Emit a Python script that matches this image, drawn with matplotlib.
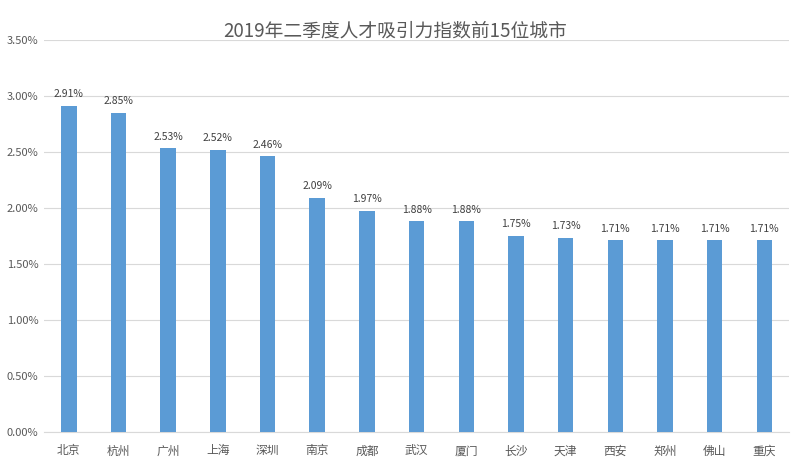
import matplotlib
matplotlib.use('Agg')
import matplotlib.pyplot as plt
from matplotlib.ticker import FuncFormatter, MultipleLocator

plt.rcParams['font.family'] = ['Noto Sans CJK SC', 'DejaVu Sans']

# 城市与人才吸引力指数(%)
cities = ['北京', '杭州', '广州', '上海', '深圳', '南京', '成都', '武汉',
          '厦门', '长沙', '天津', '西安', '郑州', '佛山', '重庆']
values = [2.91, 2.85, 2.53, 2.52, 2.46, 2.09, 1.97, 1.88,
          1.88, 1.75, 1.73, 1.71, 1.71, 1.71, 1.71]

fig = plt.figure(figsize=(7.91, 4.62), dpi=100)
ax = fig.add_axes([0.0556, 0.065, 0.942, 0.849])

x = range(len(cities))
bars = ax.bar(x, values, width=0.31, color='#5B9BD5', zorder=3)

for b, v in zip(bars, values):
    ax.text(b.get_x() + b.get_width() / 2, v + 0.06, '%.2f%%' % v,
            ha='center', va='bottom', fontsize=7.5, color='#404040')

ax.set_xlim(-0.5, len(cities) - 0.5)
ax.set_ylim(0, 3.5)
ax.yaxis.set_major_locator(MultipleLocator(0.5))
ax.yaxis.set_major_formatter(FuncFormatter(lambda v, p: '%.2f%%' % v))
ax.set_xticks(list(x))
ax.set_xticklabels(cities, fontsize=8.5)

ax.grid(axis='y', color='#D9D9D9', linewidth=0.8, zorder=0)
for s in ['top', 'right', 'left']:
    ax.spines[s].set_visible(False)
ax.spines['bottom'].set_color('#D9D9D9')
ax.tick_params(axis='both', length=0, labelsize=8, colors='#595959')
ax.tick_params(axis='x', pad=9, labelsize=8.5)
ax.tick_params(axis='y', pad=4)

fig.suptitle('2019年二季度人才吸引力指数前15位城市', y=0.955,
             fontsize=13.5, color='#595959')

fig.savefig('out.png', dpi=100)
